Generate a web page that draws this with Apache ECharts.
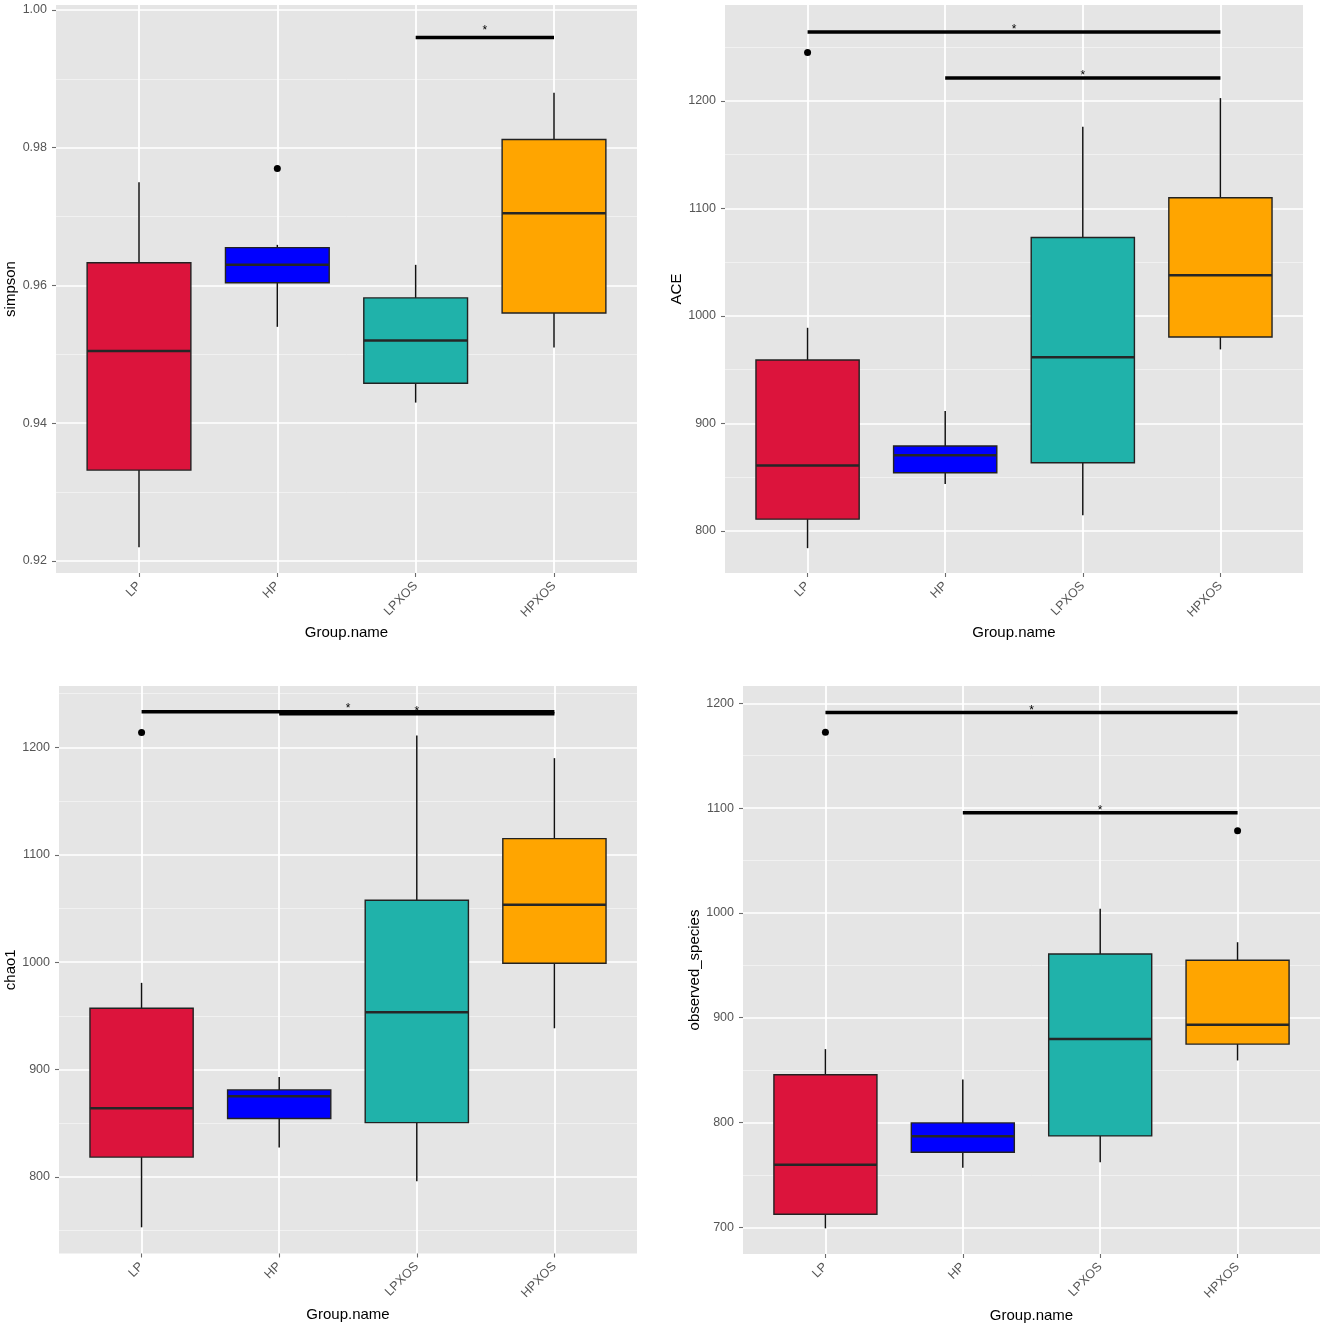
<!DOCTYPE html>
<html>
<head>
<meta charset="utf-8">
<title>alpha diversity boxplots</title>
<script src="https://cdn.jsdelivr.net/npm/echarts@6/dist/echarts.min.js"></script>
<style>
  html, body { margin: 0; padding: 0; background: #fff; }
  #chart { width: 1325px; height: 1327px; }
</style>
</head>
<body>
<div id="chart"></div>
<script>
var groups = ['LP', 'HP', 'LPXOS', 'HPXOS'];
var groupPos = [1, 2, 3, 4];
var boxColors = ['#DC143C', '#0000FF', '#20B2AA', '#FFA500'];

// simpson
var simpsonLow = [0.922, 0.954, 0.943, 0.951];
var simpsonQ1 = [0.9332, 0.9604, 0.9458, 0.956];
var simpsonMedian = [0.9505, 0.963, 0.952, 0.9705];
var simpsonQ3 = [0.9633, 0.9655, 0.9582, 0.9812];
var simpsonHigh = [0.975, 0.9659, 0.963, 0.988];
var simpsonOutliers = [[2, 0.977]];
var simpsonSig = [[3, 4, 0.996, 0.9975]];
var simpsonTicks = [0.92, 0.94, 0.96, 0.98, 1.00];
var simpsonMinor = [0.93, 0.95, 0.97, 0.99];

// ACE
var aceLow = [784, 843.8, 814.7, 968.9];
var aceQ1 = [811, 854.2, 863.5, 980.5];
var aceMedian = [861, 870.5, 961.5, 1038];
var aceQ3 = [959, 879, 1073, 1110];
var aceHigh = [989, 911.5, 1176, 1202.7];
var aceOutliers = [[1, 1245]];
var aceSig = [[1, 4, 1264.2, 1269], [2, 4, 1221.4, 1226]];
var aceTicks = [800, 900, 1000, 1100, 1200];
var aceMinor = [850, 950, 1050, 1150, 1250];

// chao1
var chaoLow = [753, 827.4, 796, 938.4];
var chaoQ1 = [818.4, 854.4, 850.5, 999];
var chaoMedian = [864, 875, 953.3, 1053.4];
var chaoQ3 = [957, 881, 1057.7, 1115];
var chaoHigh = [980.7, 893, 1211, 1190];
var chaoOutliers = [[1, 1214]];
var chaoSig = [[1, 4, 1233.2, 1238.7], [2, 4, 1231.3, 1236]];
var chaoTicks = [800, 900, 1000, 1100, 1200];
var chaoMinor = [750, 850, 950, 1050, 1150, 1250];

// observed_species
var obsLow = [699, 756.8, 762, 859.2];
var obsQ1 = [712.4, 771.6, 787.2, 874.8];
var obsMedian = [759.6, 786.8, 879.6, 893.2];
var obsQ3 = [845.6, 799.6, 960.8, 954.8];
var obsHigh = [870, 841, 1004, 972];
var obsOutliers = [[1, 1172.4], [4, 1078.4]];
var obsSig = [[1, 4, 1191.2, 1196], [2, 4, 1095.6, 1100.8]];
var obsTicks = [700, 800, 900, 1000, 1100, 1200];
var obsMinor = [750, 850, 950, 1050, 1150];

var FONT = '"Liberation Sans", Arial, Helvetica, sans-serif';
var BOX_WIDTH = 0.75;

var panels = [
  { name: 'simpson', low: simpsonLow, q1: simpsonQ1, med: simpsonMedian, q3: simpsonQ3, high: simpsonHigh,
    outliers: simpsonOutliers, sig: simpsonSig, ticks: simpsonTicks, minor: simpsonMinor,
    min: 0.918257, max: 1.000726, digits: 2,
    grid: { left: 56, top: 5, width: 581, height: 568 }, yGap: 36, xGap: 52 },
  { name: 'ACE', low: aceLow, q1: aceQ1, med: aceMedian, q3: aceQ3, high: aceHigh,
    outliers: aceOutliers, sig: aceSig, ticks: aceTicks, minor: aceMinor,
    min: 760.9, max: 1289.3, digits: 0,
    grid: { left: 725, top: 5, width: 578, height: 568 }, yGap: 40, xGap: 52 },
  { name: 'chao1', low: chaoLow, q1: chaoQ1, med: chaoMedian, q3: chaoQ3, high: chaoHigh,
    outliers: chaoOutliers, sig: chaoSig, ticks: chaoTicks, minor: chaoMinor,
    min: 728.6, max: 1257.2, digits: 0,
    grid: { left: 59, top: 686, width: 578, height: 567.5 }, yGap: 40, xGap: 54 },
  { name: 'observed_species', low: obsLow, q1: obsQ1, med: obsMedian, q3: obsQ3, high: obsHigh,
    outliers: obsOutliers, sig: obsSig, ticks: obsTicks, minor: obsMinor,
    min: 674.5, max: 1216.5, digits: 0,
    grid: { left: 743, top: 686, width: 577, height: 568 }, yGap: 39, xGap: 54 }
];

// one box: whiskers, box, median
function renderBox(params, api) {
  var x = api.value(0);
  var half = api.size([BOX_WIDTH, 0])[0] / 2;
  var pLow = api.coord([x, api.value(1)]);
  var pQ1 = api.coord([x, api.value(2)]);
  var pMed = api.coord([x, api.value(3)]);
  var pQ3 = api.coord([x, api.value(4)]);
  var pHigh = api.coord([x, api.value(5)]);
  return {
    type: 'group',
    children: [
      { type: 'line', shape: { x1: pHigh[0], y1: pHigh[1], x2: pQ3[0], y2: pQ3[1] },
        style: { stroke: '#111', lineWidth: 1.5 } },
      { type: 'line', shape: { x1: pQ1[0], y1: pQ1[1], x2: pLow[0], y2: pLow[1] },
        style: { stroke: '#111', lineWidth: 1.5 } },
      { type: 'rect', shape: { x: pQ3[0] - half, y: pQ3[1], width: half * 2, height: pQ1[1] - pQ3[1] },
        style: { fill: boxColors[params.dataIndex], stroke: '#222', lineWidth: 1.4 } },
      { type: 'line', shape: { x1: pMed[0] - half, y1: pMed[1], x2: pMed[0] + half, y2: pMed[1] },
        style: { stroke: '#262626', lineWidth: 2.5 } }
    ]
  };
}

// significance bar with star
function renderSig(params, api) {
  var a = api.coord([api.value(0), api.value(2)]);
  var b = api.coord([api.value(1), api.value(2)]);
  var s = api.coord([(api.value(0) + api.value(1)) / 2, api.value(3)]);
  return {
    type: 'group',
    children: [
      { type: 'line', shape: { x1: a[0], y1: a[1], x2: b[0], y2: b[1] },
        style: { stroke: '#000', lineWidth: 3.4 } },
      { type: 'text', x: s[0], y: s[1] + 3,
        style: { text: '*', fill: '#000', font: '12px ' + FONT, align: 'center', verticalAlign: 'middle' } }
    ]
  };
}

var option = {
  backgroundColor: '#fff',
  animation: false,
  grid: [],
  xAxis: [],
  yAxis: [],
  series: []
};

panels.forEach(function (p, i) {
  var g = p.grid;
  option.grid.push({
    left: g.left, top: g.top, width: g.width, height: g.height,
    show: true, backgroundColor: '#E5E5E5', borderWidth: 0
  });

  option.xAxis.push({
    type: 'value', gridIndex: i, min: 0.4, max: 4.6,
    name: 'Group.name', nameLocation: 'middle', nameGap: p.xGap,
    nameTextStyle: { color: '#000', fontSize: 15, fontFamily: FONT },
    axisLine: { show: false },
    axisTick: { show: true, length: 4, customValues: groupPos, lineStyle: { color: '#6b6b6b', width: 1.1 } },
    axisLabel: {
      customValues: groupPos, rotate: 45, margin: 11, color: '#555', fontSize: 12.5, fontFamily: FONT,
      formatter: function (v) { return groups[Math.round(v) - 1]; }
    },
    splitLine: { show: true, lineStyle: { color: '#fff', width: 1.8 } }
  });

  // main y axis
  option.yAxis.push({
    type: 'value', gridIndex: i, min: p.min, max: p.max,
    name: p.name, nameLocation: 'middle', nameGap: p.yGap,
    nameTextStyle: { color: '#000', fontSize: 15, fontFamily: FONT },
    axisLine: { show: false },
    axisTick: { show: true, length: 4, customValues: p.ticks, lineStyle: { color: '#6b6b6b', width: 1.1 } },
    axisLabel: {
      customValues: p.ticks, margin: 9, color: '#555', fontSize: 12.5, fontFamily: FONT,
      formatter: function (v) { return v.toFixed(p.digits); }
    },
    splitLine: { show: true, lineStyle: { color: '#fff', width: 1.7 } }
  });

  // minor grid lines
  option.yAxis.push({
    type: 'value', gridIndex: i, min: p.min, max: p.max, position: 'right',
    axisLine: { show: false },
    axisTick: { show: false, customValues: p.minor },
    axisLabel: { show: false },
    splitLine: { show: true, lineStyle: { color: '#F2F2F2', width: 0.9 } }
  });

  var boxData = groupPos.map(function (x, k) {
    return [x, p.low[k], p.q1[k], p.med[k], p.q3[k], p.high[k]];
  });

  option.series.push({
    type: 'custom', xAxisIndex: i, yAxisIndex: i * 2,
    renderItem: renderBox,
    encode: { x: 0, y: [1, 2, 3, 4, 5] },
    data: boxData,
    z: 3
  });

  option.series.push({
    type: 'scatter', xAxisIndex: i, yAxisIndex: i * 2,
    symbol: 'circle', symbolSize: 7,
    itemStyle: { color: '#000', opacity: 1 },
    data: p.outliers,
    z: 4
  });

  option.series.push({
    type: 'custom', xAxisIndex: i, yAxisIndex: i * 2,
    renderItem: renderSig,
    encode: { x: [0, 1], y: [2, 3] },
    data: p.sig,
    z: 5
  });
});

var chart = echarts.init(document.getElementById('chart'));
chart.setOption(option);
</script>
</body>
</html>
